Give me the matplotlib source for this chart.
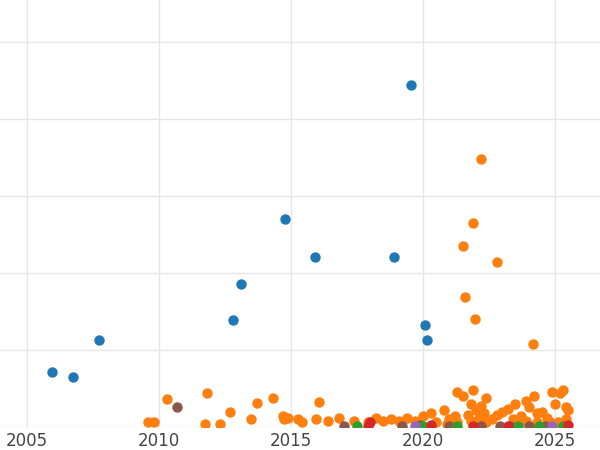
import numpy as np
import matplotlib.pyplot as plt

# values (years, value in grid units)
blue_x = [2005.95, 2006.74, 2007.73, 2012.8, 2013.1, 2014.77, 2015.9, 2018.9, 2019.55, 2020.08, 2020.15]
blue_y = [0.71, 0.65, 1.13, 1.39, 1.86, 2.70, 2.21, 2.21, 4.44, 1.32, 1.13]

orange_x = [2022.2, 2021.9, 2021.5, 2022.8, 2021.6, 2021.95, 2024.17,
            2009.58, 2009.8, 2010.3, 2011.8, 2011.75, 2012.3, 2012.7, 2013.5, 2013.7, 2014.3,
            2014.7, 2014.9, 2014.75, 2015.25, 2015.4, 2015.95, 2016.05, 2016.4, 2016.8, 2017.4,
            2017.9, 2018.2, 2018.5, 2018.8, 2019.1, 2019.4, 2019.7, 2020.0, 2020.3, 2020.5, 2020.8,
            2021.0, 2021.2, 2021.3, 2021.5, 2021.7, 2021.8, 2021.9, 2022.0, 2022.1, 2022.2, 2022.3,
            2022.4, 2022.6, 2022.8, 2023.0, 2023.2, 2023.4, 2023.5, 2023.7, 2023.9, 2024.0, 2024.2,
            2024.3, 2024.5, 2024.7, 2024.9, 2025.0, 2025.2, 2025.3, 2025.4, 2025.5,
            2021.3, 2021.8, 2022.4, 2023.5, 2023.9, 2024.3, 2025.1, 2025.4, 2020.9, 2022.1, 2024.8]
orange_y = [3.49, 2.65, 2.35, 2.14, 1.69, 1.40, 1.08,
            0.06, 0.06, 0.36, 0.44, 0.04, 0.04, 0.19, 0.10, 0.31, 0.38,
            0.14, 0.12, 0.10, 0.10, 0.07, 0.10, 0.32, 0.08, 0.12, 0.08,
            0.06, 0.12, 0.08, 0.10, 0.08, 0.12, 0.08, 0.14, 0.18, 0.06, 0.22,
            0.10, 0.14, 0.46, 0.40, 0.16, 0.30, 0.48, 0.22, 0.12, 0.28, 0.18,
            0.38, 0.10, 0.16, 0.20, 0.24, 0.10, 0.30, 0.14, 0.34, 0.26, 0.40,
            0.18, 0.20, 0.12, 0.46, 0.30, 0.44, 0.48, 0.26, 0.22,
            0.06, 0.08, 0.06, 0.06, 0.08, 0.06, 0.06, 0.10, 0.04, 0.04, 0.06]

green_x = [2017.5, 2020.0, 2021.3, 2023.6, 2024.4, 2025.3]
green_y = [0.01, 0.02, 0.01, 0.02, 0.01, 0.02]
red_x = [2017.9, 2018.0, 2020.3, 2021.9, 2023.2, 2025.5]
red_y = [0.02, 0.06, 0.03, 0.02, 0.02, 0.03]
purple_x = [2019.7, 2024.9]
purple_y = [0.02, 0.02]
brown_x = [2010.7, 2017.0, 2019.2, 2019.9, 2021.0, 2022.2, 2022.9, 2023.3, 2024.0, 2024.6]
brown_y = [0.26, 0.02, 0.02, 0.03, 0.02, 0.02, 0.02, 0.02, 0.02, 0.02]

fig = plt.figure(figsize=(6, 4.5), dpi=100)
ax = fig.add_axes([0, 0.051, 1, 0.949])

s = 42
ax.scatter(blue_x, blue_y, s=s, color='#1f77b4', zorder=3)
ax.scatter(orange_x, orange_y, s=s, color='#ff7f0e', zorder=3)
ax.scatter(brown_x, brown_y, s=s, color='#8c564b', zorder=3)
ax.scatter(green_x, green_y, s=s, color='#2ca02c', zorder=3)
ax.scatter(purple_x, purple_y, s=s, color='#9467bd', zorder=3)
ax.scatter(red_x, red_y, s=s, color='#d62728', zorder=3)

ax.set_xlim(2003.98, 2026.7)
ax.set_ylim(0, 5.55)
ax.set_xticks([2005, 2010, 2015, 2020, 2025])
ax.set_yticks([0, 1, 2, 3, 4, 5])
ax.set_yticklabels([])
ax.tick_params(axis='y', length=0)
ax.tick_params(axis='x', length=0, labelsize=12, labelcolor='#444444')
ax.grid(color='#e6e6e6', lw=1)
ax.set_axisbelow(True)
for sp in ax.spines.values():
    sp.set_visible(False)

fig.savefig('out.png', dpi=100)
